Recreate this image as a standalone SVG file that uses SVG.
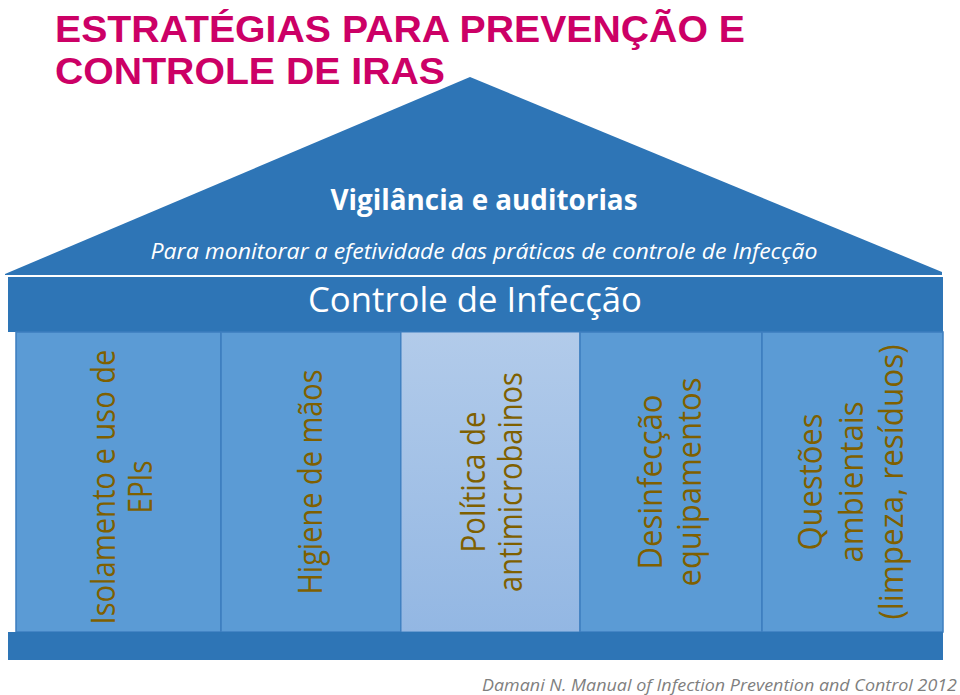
<svg xmlns="http://www.w3.org/2000/svg" width="960" height="695" viewBox="0 0 960 695">
<defs>
<linearGradient id="lightcol" x1="0" y1="0" x2="0" y2="1">
<stop offset="0" stop-color="#b2cbea"/>
<stop offset="1" stop-color="#93b7e3"/>
</linearGradient>
</defs>
<style>
.title{font-family:"Liberation Sans",Arial,sans-serif;font-weight:bold;fill:#cc0066;font-size:37px}
.dark{fill:#2e75b6}
.col{fill:#5b9bd5;stroke:#3d7ebf;stroke-width:1.5}
.ct{font-family:"Open Sans","Noto Sans",sans-serif;fill:#7f6000;font-size:33px;text-anchor:middle}
.wt{font-family:"Open Sans","Noto Sans",sans-serif;fill:#ffffff;text-anchor:middle}
.foot{font-family:"Open Sans","Noto Sans",sans-serif;font-style:italic;fill:#7f7f7f;font-size:17px}
</style>
<rect width="960" height="695" fill="#ffffff"/>
<g id="title">
<text class="title" x="55" y="42" textLength="690" lengthAdjust="spacingAndGlyphs">ESTRATÉGIAS PARA PREVENÇÃO E</text>
<text class="title" x="55" y="84" textLength="390" lengthAdjust="spacingAndGlyphs">CONTROLE DE IRAS</text>
</g>
<g id="roof">
<polygon class="dark" points="5,274 470,77 942,272 942,275 5,275"/>
<text class="wt" x="484" y="210" font-size="28" font-weight="bold" textLength="307" lengthAdjust="spacingAndGlyphs">Vigilância e auditorias</text>
<text class="wt" x="484" y="259" font-size="21" font-style="italic" textLength="667" lengthAdjust="spacingAndGlyphs">Para monitorar a efetividade das práticas de controle de Infecção</text>
</g>
<line x1="5" y1="276" x2="943" y2="276" stroke="#ffffff" stroke-width="1.5"/>
<g id="band">
<rect class="dark" x="8" y="277" width="935" height="55"/>
<text class="wt" x="475" y="312" font-size="35" textLength="334" lengthAdjust="spacingAndGlyphs">Controle de Infecção</text>
</g>
<g id="col1">
<rect class="col" x="16" y="332" width="205" height="300"/>
<text class="ct" transform="translate(115,487) rotate(-90)" textLength="275" lengthAdjust="spacingAndGlyphs">Isolamento e uso de</text>
<text class="ct" transform="translate(152,487) rotate(-90)" textLength="53" lengthAdjust="spacingAndGlyphs">EPIs</text>
</g>
<g id="col2">
<rect class="col" x="221" y="332" width="180" height="300"/>
<text class="ct" transform="translate(322,482) rotate(-90)" textLength="225" lengthAdjust="spacingAndGlyphs">Higiene de mãos</text>
</g>
<g id="col3">
<rect x="401" y="332" width="179" height="300" fill="url(#lightcol)" stroke="#3d7ebf" stroke-width="1"/>
<text class="ct" transform="translate(485,482) rotate(-90)" textLength="141" lengthAdjust="spacingAndGlyphs">Política de</text>
<text class="ct" transform="translate(522,482) rotate(-90)" textLength="220" lengthAdjust="spacingAndGlyphs">antimicrobainos</text>
</g>
<g id="col4">
<rect class="col" x="580" y="332" width="182" height="300"/>
<text class="ct" transform="translate(662,482) rotate(-90)" textLength="175" lengthAdjust="spacingAndGlyphs">Desinfecção</text>
<text class="ct" transform="translate(701,482) rotate(-90)" textLength="209" lengthAdjust="spacingAndGlyphs">equipamentos</text>
</g>
<g id="col5">
<rect class="col" x="762" y="332" width="181" height="300"/>
<text class="ct" transform="translate(822,482) rotate(-90)" textLength="137" lengthAdjust="spacingAndGlyphs">Questões</text>
<text class="ct" transform="translate(863,482) rotate(-90)" textLength="161" lengthAdjust="spacingAndGlyphs">ambientais</text>
<text class="ct" transform="translate(903,482) rotate(-90)" textLength="275" lengthAdjust="spacingAndGlyphs">(limpeza, resíduos)</text>
</g>
<g id="base">
<rect class="dark" x="8" y="632" width="935" height="28"/>
</g>
<g id="footnote">
<text class="foot" x="482" y="691" textLength="475" lengthAdjust="spacingAndGlyphs">Damani N. Manual of Infection Prevention and Control 2012</text>
</g>
</svg>
